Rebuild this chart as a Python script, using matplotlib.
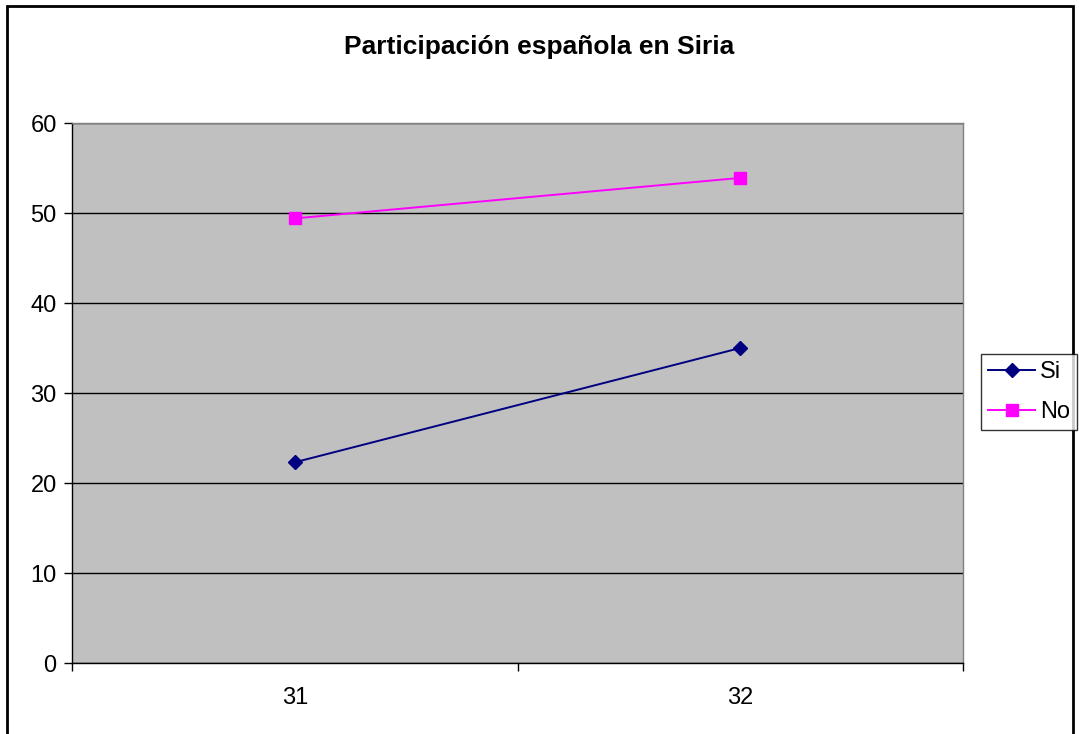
import matplotlib
matplotlib.use("Agg")
import matplotlib.pyplot as plt
from matplotlib.patches import Rectangle

plt.rcParams['font.family'] = ['Liberation Sans', 'DejaVu Sans']

categories = ["31", "32"]
si_values = [22.3, 35.0]
no_values = [49.4, 53.9]
title = "Participación española en Siria"

W, H = 1079, 734
fig = plt.figure(figsize=(W / 100, H / 100), dpi=100)
fig.patch.set_facecolor("white")

# plot area in pixels: x 72..963, y 123..663
ax = fig.add_axes([72 / W, 1 - 663 / H, (963 - 72) / W, (663 - 123) / H])
ax.set_facecolor("#C0C0C0")

x = list(range(len(categories)))
ax.plot(x, si_values, color="#000080", marker="D", markersize=7.5, linewidth=1.4, label="Si")
ax.plot(x, no_values, color="#FF00FF", marker="s", markersize=8, linewidth=1.4, label="No")

ax.set_xlim(-0.5, len(categories) - 0.5)
ax.set_ylim(0, 60)
ax.set_yticks(range(0, 61, 10))
ax.yaxis.grid(True, color="black", linewidth=1)
ax.set_axisbelow(True)

ax.set_xticks([i - 0.5 for i in range(len(categories) + 1)])
ax.set_xticklabels([])
ax.set_xticks(x, minor=True)
ax.set_xticklabels(categories, minor=True)
ax.tick_params(axis="x", which="major", length=6, width=1, color="black", direction="out")
ax.tick_params(axis="x", which="minor", length=0, labelsize=17, pad=17)
ax.tick_params(axis="y", length=6, width=1, labelsize=17, direction="out", pad=5)

for side in ["top", "right"]:
    ax.spines[side].set_color("#808080")
    ax.spines[side].set_linewidth(1)
for side in ["left", "bottom"]:
    ax.spines[side].set_color("black")
    ax.spines[side].set_linewidth(1)

leg = fig.legend(loc="center left", bbox_to_anchor=(981 / W, 1 - 392 / H),
                 fontsize=17, frameon=True, fancybox=False, edgecolor="black",
                 handlelength=2.0, handletextpad=0.2, borderpad=0.3, labelspacing=0.75,
                 borderaxespad=0)
leg.get_frame().set_linewidth(1)

fig.text(0.5, 1 - 47 / H, title, ha="center", va="center", fontsize=19, fontweight="bold")

fig.patches.append(Rectangle((7 / W, -0.01), (1073 - 7) / W, 1 - 6 / H + 0.01,
                             transform=fig.transFigure, fill=False, edgecolor="black",
                             linewidth=2))

fig.savefig("out.png", dpi=100)
